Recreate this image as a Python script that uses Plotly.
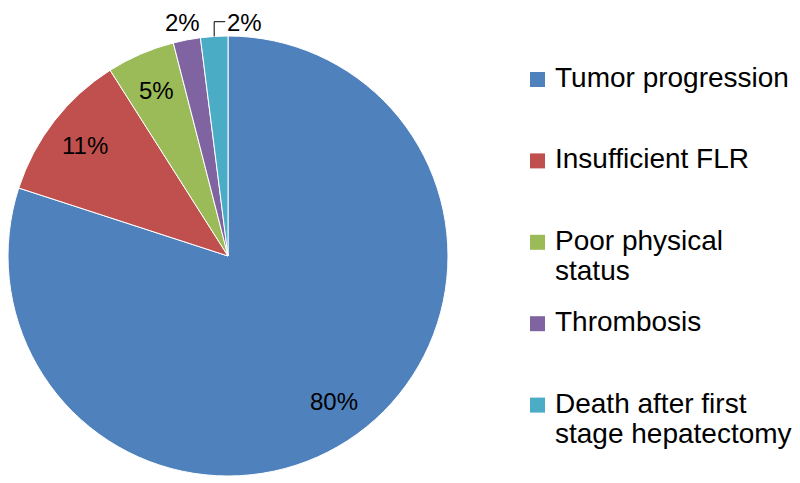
import math
import plotly.graph_objects as go

labels = ["Tumor progression", "Insufficient FLR", "Poor physical status", "Thrombosis",
          "Death after first stage hepatectomy"]
legend_lines = [["Tumor progression"], ["Insufficient FLR"], ["Poor physical", "status"],
                ["Thrombosis"], ["Death after first", "stage hepatectomy"]]
values = [80, 11, 5, 2, 2]
colors = ["#4F81BD", "#C0504D", "#9BBB59", "#8064A2", "#4BACC6"]

# page body has an 8px margin, so the figure is drawn 8px in from the window corner
OFF = 8
W, H = 800 - OFF, 483 - OFF
CX, CY, R = 228 - OFF, 256 - OFF, 220
FONT = "Liberation Sans, Arial, sans-serif"

fig = go.Figure(go.Pie(
    labels=labels,
    values=values,
    sort=False,
    direction="clockwise",
    rotation=0,
    marker=dict(colors=colors, line=dict(color="white", width=1)),
    textinfo="none",
    domain=dict(x=[max(0, (CX - R) / W), (CX + R) / W],
                y=[max(0, (H - CY - R) / H), min(1, (H - CY + R) / H)]),
    hoverinfo="label+percent",
    showlegend=False,
))

def px(x):
    return x / W

def py(y):
    return 1 - y / H

annotations = []
shapes = []
total = sum(values)
cum = 0
small_count = 0
for i, v in enumerate(values):
    mid = (cum + v / 2) / total * 2 * math.pi
    cum += v
    pct = f"{round(v / total * 100)}%"
    s, c = math.sin(mid), math.cos(mid)
    if v / total >= 0.04:
        rr = 0.82 * R
        annotations.append(dict(x=px(CX + rr * s), y=py(CY - rr * c), xref="paper", yref="paper",
                                text=pct, showarrow=False, xanchor="center", yanchor="middle",
                                font=dict(family=FONT, size=24, color="#000000")))
    else:
        # small slices: labels sit just above the pie, at the top edge of the figure
        if small_count == 0:
            rr = 1.11 * R
            annotations.append(dict(x=px(CX + rr * s), y=1, xref="paper", yref="paper",
                                    text=pct, showarrow=False, xanchor="center", yanchor="top",
                                    borderpad=0,
                                    font=dict(family=FONT, size=24, color="#000000")))
        else:
            x0, y0 = CX + R * s, CY - R * c
            y1 = CY - 1.065 * R
            x2 = x0 + 11
            shapes.append(dict(type="path", xref="paper", yref="paper",
                               path=f"M {px(x0)},{py(y0)} L {px(x0)},{py(y1)} L {px(x2)},{py(y1)}",
                               line=dict(color="#000000", width=1)))
            annotations.append(dict(x=px(x2 + 1), y=1, xref="paper", yref="paper",
                                    text=pct, showarrow=False, xanchor="left", yanchor="top",
                                    borderpad=0,
                                    font=dict(family=FONT, size=24, color="#000000")))
        small_count += 1

# legend drawn as text + square markers
LX, TX, LY0, LSTEP, LINE_H, MS = 530 - OFF, 553 - OFF, 77.5 - OFF, 81.4, 30, 15
for i, (lines, col) in enumerate(zip(legend_lines, colors)):
    yc = LY0 + i * LSTEP
    shapes.append(dict(type="rect", xref="paper", yref="paper",
                       x0=px(LX), x1=px(LX + MS), y0=py(yc + 2 - MS / 2), y1=py(yc + 2 + MS / 2),
                       fillcolor=col, line=dict(width=0)))
    for j, t in enumerate(lines):
        annotations.append(dict(x=px(TX), y=py(yc + j * LINE_H), xref="paper", yref="paper",
                                text=t, showarrow=False, xanchor="left", yanchor="middle",
                                font=dict(family=FONT, size=28, color="#000000")))

fig.update_layout(
    width=W, height=H,
    margin=dict(l=0, r=0, t=0, b=0),
    paper_bgcolor="white",
    plot_bgcolor="white",
    showlegend=False,
    annotations=annotations,
    shapes=shapes,
)

fig.write_html("out.html")
